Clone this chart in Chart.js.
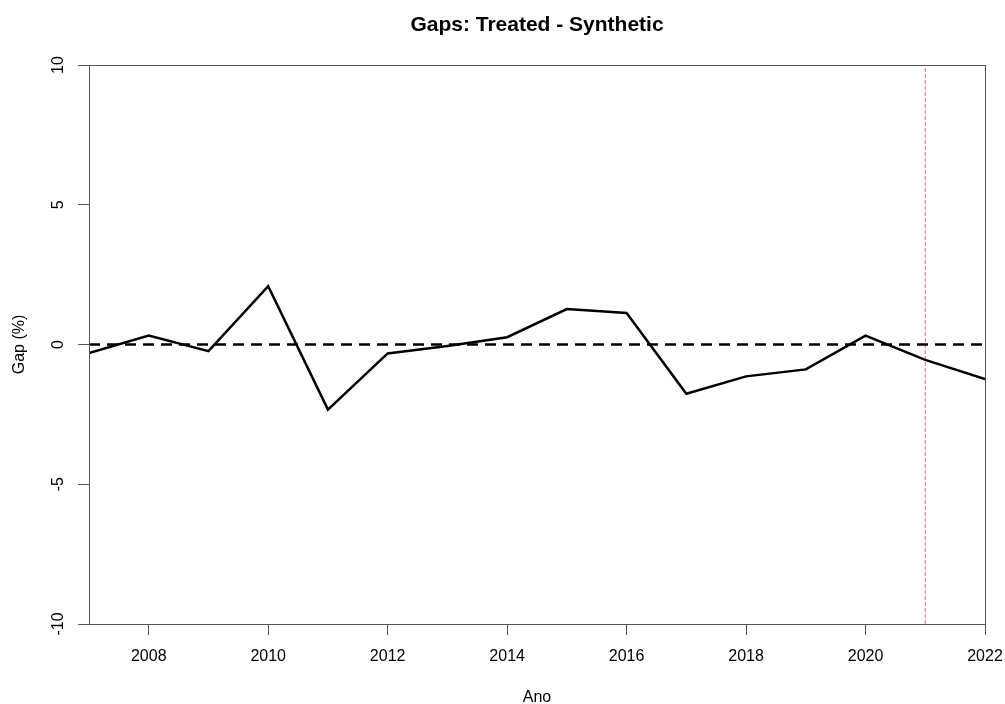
<!DOCTYPE html>
<html>
<head>
<meta charset="utf-8">
<script src="https://cdn.jsdelivr.net/npm/chart.js@4.4.0/dist/chart.umd.min.js"></script>
<style>
  body { margin: 0; background: #fff; }
  #wrap { width: 1005px; height: 704px; }
</style>
</head>
<body>
<div id="wrap"><canvas id="myChart"></canvas></div>
<script>
const years = [2007, 2008, 2009, 2010, 2011, 2012, 2013, 2014, 2015, 2016, 2017, 2018, 2019, 2020, 2021, 2022];
const gaps = [-0.31, 0.32, -0.24, 2.09, -2.33, -0.32, -0.05, 0.26, 1.27, 1.13, -1.76, -1.14, -0.89, 0.32, -0.55, -1.24];
const xTicks = [2008, 2010, 2012, 2014, 2016, 2018, 2020, 2022];
const yTicks = [-10, -5, 0, 5, 10];
const treatYear = 2021;
const titleText = "Gaps: Treated - Synthetic";

const FONT = "'Liberation Sans', Arial, sans-serif";
const ctx = document.querySelector("#myChart").getContext("2d");

// R-style box and centered title
const boxPlugin = {
    id: "box",
    afterDraw(chart) {
        const { ctx, chartArea: a } = chart;
        ctx.save();
        ctx.strokeStyle = "#555";
        ctx.lineWidth = 1;
        ctx.strokeRect(a.left + 0.5, a.top + 0.5, a.right - a.left, a.bottom - a.top);
        ctx.fillStyle = "#000";
        ctx.font = "bold 21px " + FONT;
        ctx.textAlign = "center";
        ctx.textBaseline = "middle";
        ctx.fillText(titleText, (a.left + a.right) / 2, 25);
        ctx.restore();
    }
};

new Chart(ctx, {
    type: "line",
    data: {
        datasets: [
            {
                data: years.map((y, i) => ({ x: y, y: gaps[i] })),
                borderColor: "#000",
                borderWidth: 2.5,
                pointRadius: 0,
                tension: 0
            },
            {
                data: [{ x: years[0], y: 0 }, { x: years[years.length - 1], y: 0 }],
                borderColor: "#000",
                borderWidth: 2.5,
                borderDash: [11, 7],
                pointRadius: 0
            },
            {
                data: [{ x: treatYear, y: yTicks[0] }, { x: treatYear, y: yTicks[yTicks.length - 1] }],
                borderColor: "rgba(240,60,60,0.75)",
                borderWidth: 1,
                borderDash: [4, 2],
                pointRadius: 0
            }
        ]
    },
    options: {
        responsive: true,
        maintainAspectRatio: false,
        animation: false,
        layout: { padding: { top: 65, right: 20, left: 0, bottom: 0 } },
        plugins: { legend: { display: false }, title: { display: false }, tooltip: { enabled: false } },
        scales: {
            x: {
                type: "linear",
                min: years[0],
                max: years[years.length - 1],
                afterBuildTicks: axis => { axis.ticks = xTicks.map(v => ({ value: v })); },
                afterFit: axis => { axis.height = 80; axis.paddingRight = 0; axis.paddingLeft = 0; },
                grid: { drawOnChartArea: false, drawTicks: true, tickLength: 11, color: "#555" },
                border: { color: "#555" },
                ticks: { color: "#000", font: { family: FONT, size: 16 }, padding: 12, maxRotation: 0, callback: v => String(v) },
                title: { display: true, text: "Ano", color: "#000", font: { family: FONT, size: 16 }, padding: { top: 0, bottom: -3 } }
            },
            y: {
                min: yTicks[0],
                max: yTicks[yTicks.length - 1],
                afterBuildTicks: axis => { axis.ticks = yTicks.map(v => ({ value: v })); },
                afterFit: axis => { axis.width = 89; },
                grid: { drawOnChartArea: false, drawTicks: true, tickLength: 11, color: "#555" },
                border: { color: "#555" },
                ticks: { color: "#000", font: { family: FONT, size: 16 }, padding: 8, crossAlign: "center", minRotation: 90, maxRotation: 90 },
                title: { display: true, text: "Gap (%)", color: "#000", font: { family: FONT, size: 16 }, padding: { top: 10, bottom: 0 } }
            }
        }
    },
    plugins: [boxPlugin]
});
</script>
</body>
</html>
